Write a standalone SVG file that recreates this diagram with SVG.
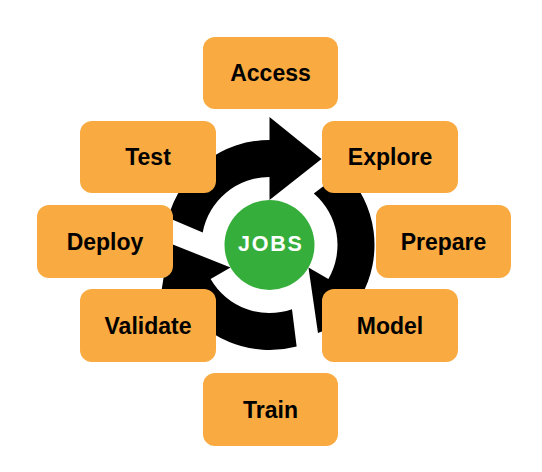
<svg xmlns="http://www.w3.org/2000/svg" width="542" height="472" viewBox="0 0 542 472">
  <defs>
    <style>
      .box { fill: #F9AA40; }
      .lbl { font-family: "Liberation Sans", Arial, sans-serif; font-weight: bold; font-size: 23px; fill: #000; text-anchor: middle; }
      .hub { fill: #36AE3B; }
      .hublbl { font-family: "Liberation Sans", Arial, sans-serif; font-weight: bold; font-size: 21.5px; fill: #fff; text-anchor: middle; letter-spacing: 1.8px; }
      .arrow { fill: #000; }
    </style>
    <path id="seg" class="arrow" d="M 168.1 217.8 A 105 105 0 0 1 269.5 140 L 269.5 117 L 321.5 159 L 269.5 200 L 269.5 177 A 68 68 0 0 0 202.7 232.4 Z"/>
  </defs>
  <rect width="542" height="472" fill="#fff"/>
  <g id="connectors">
    <use href="#seg"/>
    <use href="#seg" transform="rotate(120 269.5 245)"/>
    <use href="#seg" transform="rotate(240 269.5 245)"/>
  </g>
  <g id="jobs">
    <circle class="hub" cx="269.5" cy="245" r="45"/>
    <text class="hublbl" x="270.9" y="250.7">JOBS</text>
  </g>
  <g id="access"><rect class="box" x="203" y="37" width="135" height="72" rx="12"/><text class="lbl" x="270.5" y="81">Access</text></g>
  <g id="test"><rect class="box" x="80" y="121" width="136" height="72" rx="12"/><text class="lbl" x="148" y="165">Test</text></g>
  <g id="explore"><rect class="box" x="322" y="121" width="136" height="72" rx="12"/><text class="lbl" x="390" y="165">Explore</text></g>
  <g id="deploy"><rect class="box" x="37" y="205" width="136" height="73" rx="12"/><text class="lbl" x="105" y="249.5">Deploy</text></g>
  <g id="prepare"><rect class="box" x="376" y="205" width="135" height="73" rx="12"/><text class="lbl" x="443.5" y="249.5">Prepare</text></g>
  <g id="validate"><rect class="box" x="80" y="289" width="136" height="73" rx="12"/><text class="lbl" x="148" y="333.5">Validate</text></g>
  <g id="model"><rect class="box" x="322" y="289" width="136" height="73" rx="12"/><text class="lbl" x="390" y="333.5">Model</text></g>
  <g id="train"><rect class="box" x="203" y="373" width="135" height="73" rx="12"/><text class="lbl" x="270.5" y="417.5">Train</text></g>
</svg>
